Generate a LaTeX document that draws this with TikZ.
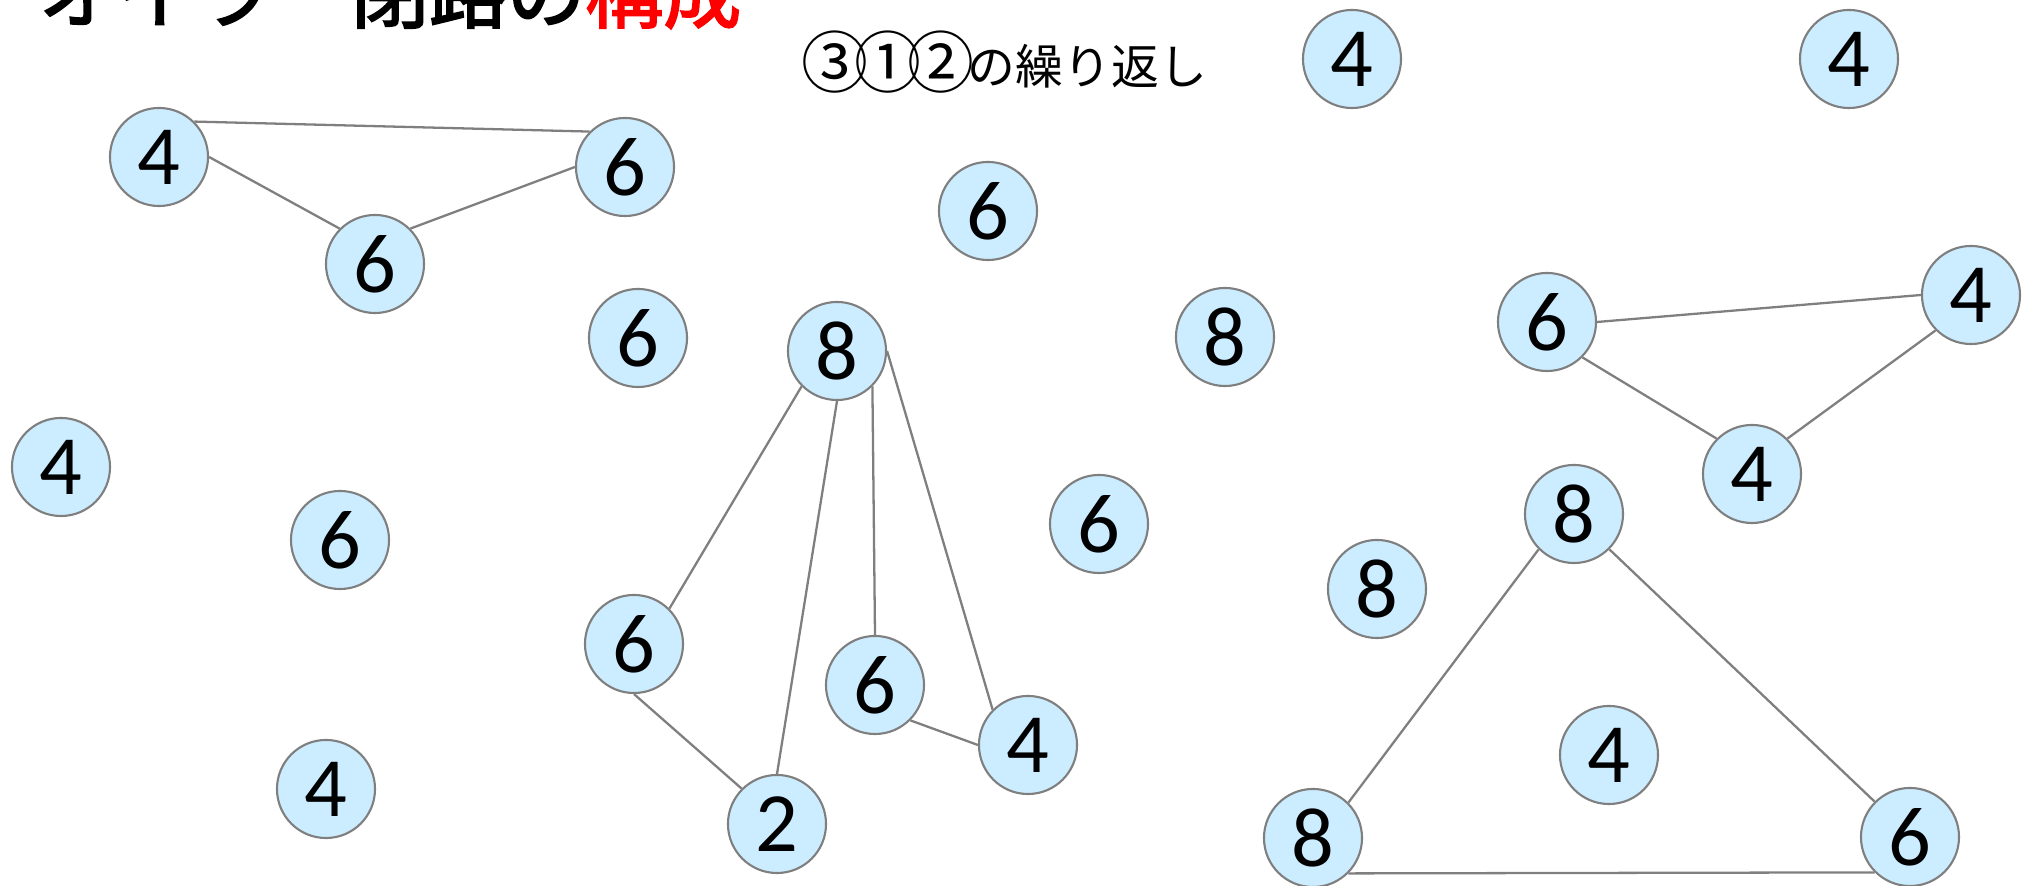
\documentclass[tikz,border=0pt]{standalone}
\usepackage{fontspec}
\usepackage{graphicx}
\setmainfont{Carlito}
\newfontfamily\jpfont{Noto Sans CJK JP}
\newfontfamily\jptitle[FakeBold=2.4]{Noto Sans CJK JP}

% a circled number as tall as the kana beside it
\newcommand\circnum[1]{\makebox[0.53cm][c]{\raisebox{-0.03cm}{%
    \scalebox{1.4}{\jpfont\fontsize{13.6}{14}\selectfont #1}}}}

\begin{document}
\begin{tikzpicture}[
    vertex/.style={circle, draw=nodeline, fill=nodefill, line width=0.6pt,
                   minimum size=0.98cm, inner sep=0pt,
                   font=\fontsize{24}{24}\selectfont},
    edge/.style={draw=edgecolor, line width=0.65pt},
]

\definecolor{nodefill}{HTML}{CCECFF}
\definecolor{nodeline}{HTML}{7F7F7F}
\definecolor{edgecolor}{HTML}{7F7F7F}
\definecolor{titlered}{HTML}{FF0000}

% pixel coordinates of the slide, y running down
\begin{scope}[x=0.01cm, y=-0.01cm]

    \useasboundingbox (0,0) rectangle (2029,886);
    \clip (0,0) rectangle (2029,886);

    % ------------------------------------------------------------ headings
    \node[anchor=base west, inner sep=0pt,
          font=\jptitle\fontsize{22.2}{23}\selectfont]
        (title) at (38,22) {オイラー閉路の\textcolor{titlered}{構成}};
    \node[anchor=base west, inner sep=0pt, font=\jpfont\fontsize{13.6}{15}\selectfont]
        (repeat) at (808,85)
        {\circnum{③}\circnum{①}\circnum{②}の繰り返し};

    % ------------------------------------------------------------ vertices
    \foreach \name/\x/\y/\deg in {
        tla/159/157/4, tlb/625/167/6, tlc/375/264/6,
        fan/837/351/8, fana/634/644/6, fanb/777/824/2, fanc/875/685/6,
        fand/1028/745/4,
        tra/1547/322/6, trb/1971/295/4, trc/1752/474/4,
        bra/1574/514/8, brb/1313/838/8, brc/1910/837/6,
        isoa/638/338/6, isob/61/467/4, isoc/340/540/6, isod/326/789/4,
        isoe/988/211/6, isof/1352/59/4, isog/1225/337/8, isoh/1099/524/6,
        isoi/1377/589/8, isoj/1849/59/4, isok/1609/755/4} {
        \node[vertex] (\name) at (\x,\y) {\deg};
    }

    % ------------------------------------------------------------ edges
    % each connector is glued to one of the eight points round a circle
    \foreach \a/\b in {
        tla.north east/tlb.north west, tla.east/tlc.north west,
        tlc.north east/tlb.west,
        fan.south west/fana.north east, fan.south/fanb.north,
        fan.south east/fanc.north, fan.east/fand.north west,
        fana.south/fanb.north west, fanc.south east/fand.west,
        tra.east/trb.west, tra.south east/trc.north west,
        trc.north east/trb.south west,
        bra.south west/brb.north east, bra.south east/brc.north west,
        brb.south east/brc.south west} {
        \draw[edge] (\a) -- (\b);
    }

\end{scope}

\end{tikzpicture}
\end{document}
